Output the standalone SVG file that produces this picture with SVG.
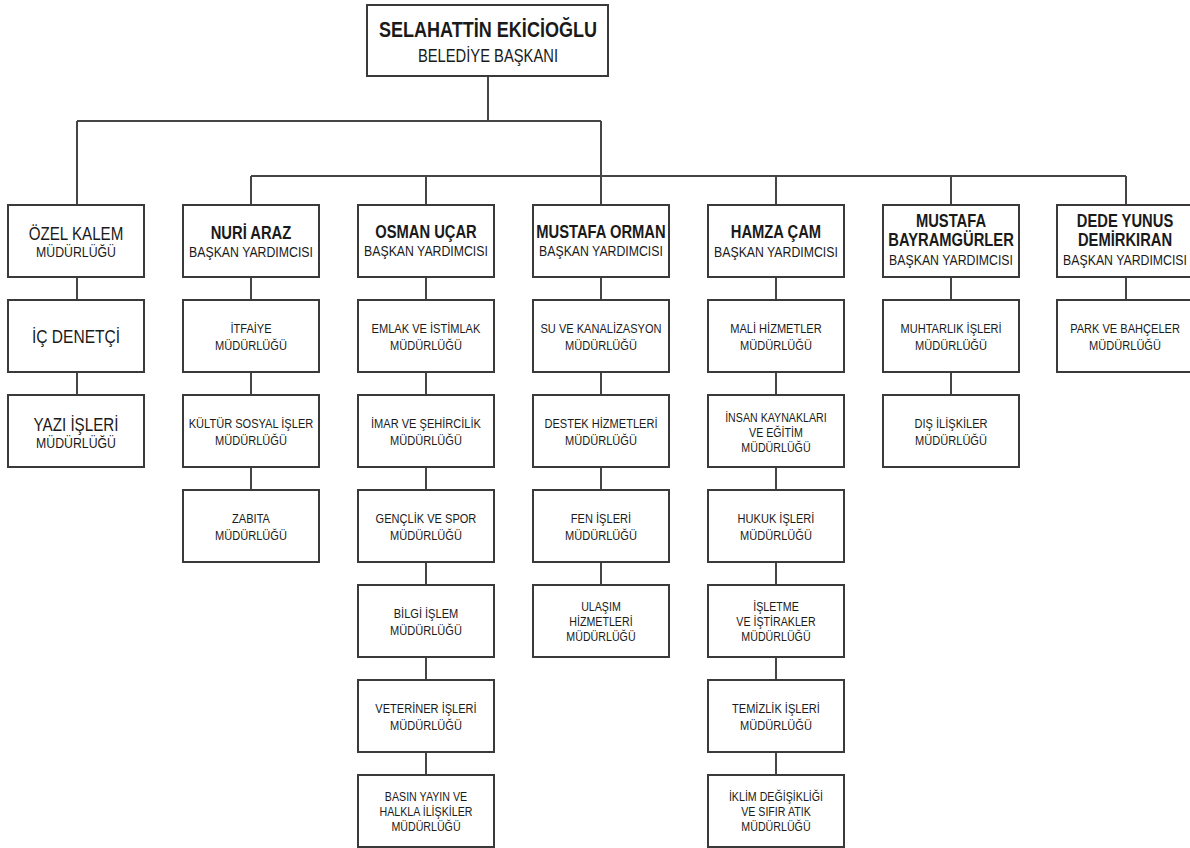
<svg xmlns="http://www.w3.org/2000/svg" width="1190" height="848" viewBox="0 0 1190 848">
<style>
.bg{fill:#fff}
.box{fill:#fff;stroke:#3a3a3a;stroke-width:2}
.ln{fill:none;stroke:#454545;stroke-width:2}
text{font-family:"Liberation Sans",Arial,sans-serif;fill:#1a1a1a;text-anchor:middle}
.c{transform:scale(0.82,1)}
.nm{font-weight:bold;font-size:18px}
.by{font-size:15px}
.s{font-size:13.5px}
.s3{font-size:13px}
.oz{font-size:18.5px}
.ozm{font-size:15px}
</style>
<rect class="bg" x="0" y="0" width="1190" height="848"/>
<g id="connectors">
<path class="ln" d="M488,76V121M77,121H601M77,121V205M601,121V205M251,176H1126M251,176V205M426,176V205M776,176V205M951,176V205M1126,176V205"/>
<path class="ln" d="M77,277V300M77,372V395"/>
<path class="ln" d="M251,277V300M251,372V395M251,467V490"/>
<path class="ln" d="M426,277V300M426,372V395M426,467V490M426,562V585M426,657V680M426,752V775"/>
<path class="ln" d="M601,277V300M601,372V395M601,467V490M601,562V585"/>
<path class="ln" d="M776,277V300M776,372V395M776,467V490M776,562V585M776,657V680M776,752V775"/>
<path class="ln" d="M951,277V300M951,372V395"/>
<path class="ln" d="M1126,277V300"/>
</g>
<g id="baskan"><rect class="box" x="367" y="5" width="241" height="71"/>
<g class="c"><text x="595.1" y="37" style="font-weight:bold;font-size:22px">SELAHATTİN EKİCİOĞLU</text>
<text x="595.1" y="62" style="font-size:18px">BELEDİYE BAŞKANI</text></g></g>

<g id="ozel-kalem"><rect class="box" x="8" y="205" width="136" height="72"/>
<g class="c"><text class="oz" x="92.7" y="240">ÖZEL KALEM</text><text class="ozm" x="92.7" y="257">MÜDÜRLÜĞÜ</text></g></g>
<g id="ic-denetci"><rect class="box" x="8" y="300" width="136" height="72"/>
<g class="c"><text x="92.7" y="343" style="font-size:19px">İÇ DENETÇİ</text></g></g>
<g id="yazi-isleri"><rect class="box" x="8" y="395" width="136" height="72"/>
<g class="c"><text class="oz" x="92.7" y="431">YAZI İŞLERİ</text><text class="ozm" x="92.7" y="448">MÜDÜRLÜĞÜ</text></g></g>

<g id="nuri-araz"><rect class="box" x="183" y="205" width="136" height="72"/>
<g class="c"><text class="nm" x="306.1" y="239">NURİ ARAZ</text><text class="by" x="306.1" y="257">BAŞKAN YARDIMCISI</text></g></g>
<g id="itfaiye"><rect class="box" x="183" y="300" width="136" height="72"/>
<g class="c"><text class="s" x="306.1" y="333">İTFAİYE</text><text class="s" x="306.1" y="350">MÜDÜRLÜĞÜ</text></g></g>
<g id="kultur"><rect class="box" x="183" y="395" width="136" height="72"/>
<g class="c"><text class="s" x="306.1" y="428">KÜLTÜR SOSYAL İŞLER</text><text class="s" x="306.1" y="445">MÜDÜRLÜĞÜ</text></g></g>
<g id="zabita"><rect class="box" x="183" y="490" width="136" height="72"/>
<g class="c"><text class="s" x="306.1" y="523">ZABITA</text><text class="s" x="306.1" y="540">MÜDÜRLÜĞÜ</text></g></g>

<g id="osman-ucar"><rect class="box" x="358" y="205" width="136" height="72"/>
<g class="c"><text class="nm" x="519.5" y="238">OSMAN UÇAR</text><text class="by" x="519.5" y="256">BAŞKAN YARDIMCISI</text></g></g>
<g id="emlak"><rect class="box" x="358" y="300" width="136" height="72"/>
<g class="c"><text class="s" x="519.5" y="333">EMLAK VE İSTİMLAK</text><text class="s" x="519.5" y="350">MÜDÜRLÜĞÜ</text></g></g>
<g id="imar"><rect class="box" x="358" y="395" width="136" height="72"/>
<g class="c"><text class="s" x="519.5" y="428">İMAR VE ŞEHİRCİLİK</text><text class="s" x="519.5" y="445">MÜDÜRLÜĞÜ</text></g></g>
<g id="genclik"><rect class="box" x="358" y="490" width="136" height="72"/>
<g class="c"><text class="s" x="519.5" y="523">GENÇLİK VE SPOR</text><text class="s" x="519.5" y="540">MÜDÜRLÜĞÜ</text></g></g>
<g id="bilgi-islem"><rect class="box" x="358" y="585" width="136" height="72"/>
<g class="c"><text class="s" x="519.5" y="618">BİLGİ İŞLEM</text><text class="s" x="519.5" y="635">MÜDÜRLÜĞÜ</text></g></g>
<g id="veteriner"><rect class="box" x="358" y="680" width="136" height="72"/>
<g class="c"><text class="s" x="519.5" y="713">VETERİNER İŞLERİ</text><text class="s" x="519.5" y="730">MÜDÜRLÜĞÜ</text></g></g>
<g id="basin"><rect class="box" x="358" y="775" width="136" height="72"/>
<g class="c"><text class="s3" x="519.5" y="801">BASIN YAYIN VE</text><text class="s3" x="519.5" y="816">HALKLA İLİŞKİLER</text><text class="s3" x="519.5" y="831">MÜDÜRLÜĞÜ</text></g></g>

<g id="mustafa-orman"><rect class="box" x="533" y="205" width="136" height="72"/>
<g class="c"><text class="nm" x="732.9" y="238">MUSTAFA ORMAN</text><text class="by" x="732.9" y="256">BAŞKAN YARDIMCISI</text></g></g>
<g id="su"><rect class="box" x="533" y="300" width="136" height="72"/>
<g class="c"><text class="s" x="732.9" y="333">SU VE KANALİZASYON</text><text class="s" x="732.9" y="350">MÜDÜRLÜĞÜ</text></g></g>
<g id="destek"><rect class="box" x="533" y="395" width="136" height="72"/>
<g class="c"><text class="s" x="732.9" y="428">DESTEK HİZMETLERİ</text><text class="s" x="732.9" y="445">MÜDÜRLÜĞÜ</text></g></g>
<g id="fen"><rect class="box" x="533" y="490" width="136" height="72"/>
<g class="c"><text class="s" x="732.9" y="523">FEN İŞLERİ</text><text class="s" x="732.9" y="540">MÜDÜRLÜĞÜ</text></g></g>
<g id="ulasim"><rect class="box" x="533" y="585" width="136" height="72"/>
<g class="c"><text class="s3" x="732.9" y="611">ULAŞIM</text><text class="s3" x="732.9" y="626">HİZMETLERİ</text><text class="s3" x="732.9" y="641">MÜDÜRLÜĞÜ</text></g></g>

<g id="hamza-cam"><rect class="box" x="708" y="205" width="136" height="72"/>
<g class="c"><text class="nm" x="946.3" y="238">HAMZA ÇAM</text><text class="by" x="946.3" y="257">BAŞKAN YARDIMCISI</text></g></g>
<g id="mali"><rect class="box" x="708" y="300" width="136" height="72"/>
<g class="c"><text class="s" x="946.3" y="333">MALİ HİZMETLER</text><text class="s" x="946.3" y="350">MÜDÜRLÜĞÜ</text></g></g>
<g id="insan"><rect class="box" x="708" y="395" width="136" height="72"/>
<g class="c"><text class="s3" x="946.3" y="422">İNSAN KAYNAKLARI</text><text class="s3" x="946.3" y="437">VE EĞİTİM</text><text class="s3" x="946.3" y="452">MÜDÜRLÜĞÜ</text></g></g>
<g id="hukuk"><rect class="box" x="708" y="490" width="136" height="72"/>
<g class="c"><text class="s" x="946.3" y="523">HUKUK İŞLERİ</text><text class="s" x="946.3" y="540">MÜDÜRLÜĞÜ</text></g></g>
<g id="isletme"><rect class="box" x="708" y="585" width="136" height="72"/>
<g class="c"><text class="s3" x="946.3" y="611">İŞLETME</text><text class="s3" x="946.3" y="626">VE İŞTİRAKLER</text><text class="s3" x="946.3" y="641">MÜDÜRLÜĞÜ</text></g></g>
<g id="temizlik"><rect class="box" x="708" y="680" width="136" height="72"/>
<g class="c"><text class="s" x="946.3" y="713">TEMİZLİK İŞLERİ</text><text class="s" x="946.3" y="730">MÜDÜRLÜĞÜ</text></g></g>
<g id="iklim"><rect class="box" x="708" y="775" width="136" height="72"/>
<g class="c"><text class="s3" x="946.3" y="801">İKLİM DEĞİŞİKLİĞİ</text><text class="s3" x="946.3" y="816">VE SIFIR ATIK</text><text class="s3" x="946.3" y="831">MÜDÜRLÜĞÜ</text></g></g>

<g id="mustafa-bayramgurler"><rect class="box" x="883" y="205" width="136" height="72"/>
<g class="c"><text class="nm" x="1159.8" y="227">MUSTAFA</text><text class="nm" x="1159.8" y="246">BAYRAMGÜRLER</text><text class="by" x="1159.8" y="265">BAŞKAN YARDIMCISI</text></g></g>
<g id="muhtarlik"><rect class="box" x="883" y="300" width="136" height="72"/>
<g class="c"><text class="s" x="1159.8" y="333">MUHTARLIK İŞLERİ</text><text class="s" x="1159.8" y="350">MÜDÜRLÜĞÜ</text></g></g>
<g id="dis-iliskiler"><rect class="box" x="883" y="395" width="136" height="72"/>
<g class="c"><text class="s" x="1159.8" y="428">DIŞ İLİŞKİLER</text><text class="s" x="1159.8" y="445">MÜDÜRLÜĞÜ</text></g></g>

<g id="dede-yunus"><rect class="box" x="1057" y="205" width="136" height="72"/>
<g class="c"><text class="nm" x="1372" y="227">DEDE YUNUS</text><text class="nm" x="1372" y="246">DEMİRKIRAN</text><text class="by" x="1372" y="265">BAŞKAN YARDIMCISI</text></g></g>
<g id="park"><rect class="box" x="1057" y="300" width="136" height="72"/>
<g class="c"><text class="s" x="1372" y="333">PARK VE BAHÇELER</text><text class="s" x="1372" y="350">MÜDÜRLÜĞÜ</text></g></g>
</svg>
